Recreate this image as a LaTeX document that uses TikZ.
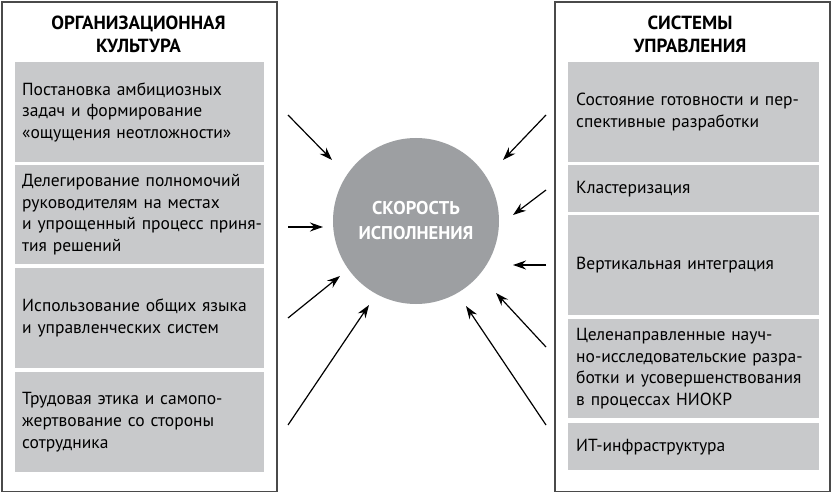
\documentclass[tikz,border=0pt]{standalone}
\usepackage{fontspec}
\setmainfont{PT Sans}
\usetikzlibrary{arrows.meta}
\definecolor{boxgray}{HTML}{C8C9CB}
\definecolor{dotgray}{HTML}{9D9FA2}
\definecolor{framegray}{HTML}{4A4A4A}
\tikzstyle{panel} = [draw=framegray, line width=1.8pt, rectangle, anchor=north west, minimum width=275pt, minimum height=490pt, inner sep=0pt]
\tikzstyle{paneltitle} = [align=center, font=\fontsize{19}{23}\selectfont\bfseries]
\tikzstyle{item} = [fill=boxgray, rectangle, anchor=north west, minimum width=249pt, inner xsep=7pt, text width=235pt, align=left, font=\fontsize{17.5}{21.7}\selectfont]
\tikzstyle{arr} = [-{Stealth[length=13pt,width=9pt]}, line width=1.2pt, black]

\begin{document}
\begin{tikzpicture}[x=1pt,y=-1pt]
\useasboundingbox (0,0) rectangle (831,492);
\node[panel] (culture) at (1,1) {};
\node[panel] (systems) at (554,1) {};
\node[paneltitle] (culturetitle) at (138.5,34) {ОРГАНИЗАЦИОННАЯ\\КУЛЬТУРА};
\node[paneltitle] (systemstitle) at (690,34) {СИСТЕМЫ\\УПРАВЛЕНИЯ};

\node[item, minimum height=100pt] (cul1) at (15,62) {Постановка амбициозных\\задач и формирование\\«ощущения неотложности»};
\node[item, minimum height=99pt] (cul2) at (15,165) {Делегирование полномочий\\руководителям на местах\\\mbox{и упрощенный процесс приня-}\\тия решений};
\node[item, minimum height=100pt] (cul3) at (15,268) {Использование общих языка\\и управленческих систем};
\node[item, minimum height=100pt] (cul4) at (15,372) {Трудовая этика и самопо-\\жертвование со стороны\\сотрудника};

\node[item, minimum height=100pt, inner xsep=8pt] (sys1) at (568,62) {Состояние готовности и пер-\\спективные разработки};
\node[item, minimum height=47pt, inner xsep=8pt] (sys2) at (568,165) {Кластеризация};
\node[item, minimum height=100pt, inner xsep=8pt] (sys3) at (568,215) {Вертикальная интеграция};
\node[item, minimum height=99pt, inner xsep=8pt] (sys4) at (568,319) {Целенаправленные науч-\\но-исследовательские разра-\\ботки и усовершенствования\\в процессах НИОКР};
\node[item, minimum height=47pt, inner xsep=8pt] (sys5) at (568,423) {ИТ-инфраструктура};

\node[circle, fill=dotgray, minimum size=166pt, text=white, align=center, font=\fontsize{18.5}{25}\selectfont\bfseries] (speed) at (416,221) {СКОРОСТЬ\\ИСПОЛНЕНИЯ};

\coordinate (in1) at (288,115);
\coordinate (in1tip) at (332,160);
\coordinate (in2) at (288,227);
\coordinate (in2tip) at (323,227);
\coordinate (in3) at (288,318);
\coordinate (in3tip) at (340,276);
\coordinate (in4) at (288,425);
\coordinate (in4tip) at (369,305);
\coordinate (in5) at (546,115);
\coordinate (in5tip) at (503,160);
\coordinate (in6) at (546,190);
\coordinate (in6tip) at (513,215);
\coordinate (in7) at (546,265);
\coordinate (in7tip) at (513,265);
\coordinate (in8) at (546,347);
\coordinate (in8tip) at (496,293);
\coordinate (in9) at (546,425);
\coordinate (in9tip) at (466,306);

\draw[arr] (in1) -- (in1tip);
\draw[arr] (in2) -- (in2tip);
\draw[arr] (in3) -- (in3tip);
\draw[arr] (in4) -- (in4tip);
\draw[arr] (in5) -- (in5tip);
\draw[arr] (in6) -- (in6tip);
\draw[arr] (in7) -- (in7tip);
\draw[arr] (in8) -- (in8tip);
\draw[arr] (in9) -- (in9tip);
\end{tikzpicture}
\end{document}
